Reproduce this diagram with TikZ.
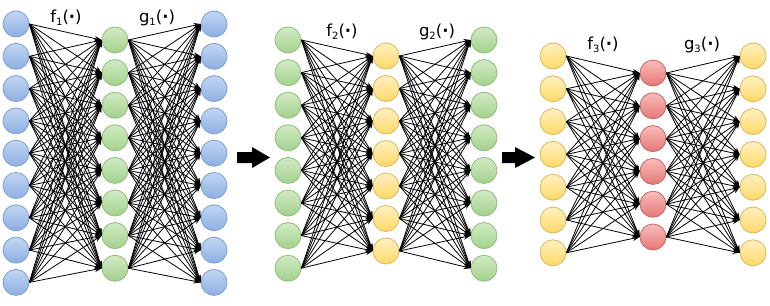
\documentclass[tikz,border=0pt]{standalone}
\usepackage{fontspec}
\setmainfont{DejaVu Sans}
\usetikzlibrary{arrows.meta}
\definecolor{bluelt}{HTML}{C2D6F3}
\definecolor{bluedk}{HTML}{8DAFE2}
\definecolor{bluest}{HTML}{7D9FCF}
\definecolor{greenlt}{HTML}{D2EBC6}
\definecolor{greendk}{HTML}{A3D18B}
\definecolor{greenst}{HTML}{8FBD78}
\definecolor{yellowlt}{HTML}{FFF0C2}
\definecolor{yellowdk}{HTML}{FFD966}
\definecolor{yellowst}{HTML}{D9B95C}
\definecolor{redlt}{HTML}{F8BDBB}
\definecolor{reddk}{HTML}{E67875}
\definecolor{redst}{HTML}{C06664}
\tikzset{
  neuron/.style={circle, minimum size=26pt, inner sep=0pt, line width=0.8pt},
  bluen/.style={neuron, draw=bluest, top color=bluelt, bottom color=bluedk},
  greenn/.style={neuron, draw=greenst, top color=greenlt, bottom color=greendk},
  yellown/.style={neuron, draw=yellowst, top color=yellowlt, bottom color=yellowdk},
  redn/.style={neuron, draw=redst, top color=redlt, bottom color=reddk},
  edge/.style={line width=0.8pt, black, -{Stealth[length=7pt,width=5pt]}},
  fnlabel/.style={font=\fontsize{16.5}{18}\selectfont, inner sep=0pt},
  bigarrow/.style={fill=black}
}
\newcommand{\fn}[2]{#1\raisebox{-0.35ex}{\fontsize{10}{11}\selectfont #2}(\textbf{·})}
\begin{document}
\begin{tikzpicture}[x=1pt,y=-1pt]
\useasboundingbox (0,0) rectangle (770,305);
\fill[white] (0,0) rectangle (770,305);
% network 1
\foreach \i in {0,...,8} \node[bluen] (a\i) at (16,{24+32.3*\i}) {};
\foreach \j in {0,...,7} \node[greenn] (b\j) at (115,{40+32.6*\j}) {};
\foreach \i in {0,...,8} \node[bluen] (c\i) at (214,{24+32.3*\i}) {};
\foreach \i in {0,...,8} \foreach \j in {0,...,7} \draw[edge] (a\i.east) -- (b\j.west);
\foreach \j in {0,...,7} \foreach \i in {0,...,8} \draw[edge] (b\j.east) -- (c\i.west);
\node[fnlabel] (f1) at (66,18) {\fn{f}{1}};
\node[fnlabel] (g1) at (157,18) {\fn{g}{1}};
% arrow 1
\fill[bigarrow] (237,152) -- (252,152) -- (252,147) -- (270,157.5) -- (252,168) -- (252,163) -- (237,163) -- cycle;
% network 2
\foreach \j in {0,...,7} \node[greenn] (d\j) at (288,{40+32.6*\j}) {};
\foreach \k in {0,...,6} \node[yellown] (e\k) at (386,{56+32.5*\k}) {};
\foreach \j in {0,...,7} \node[greenn] (g\j) at (484,{40+32.6*\j}) {};
\foreach \j in {0,...,7} \foreach \k in {0,...,6} \draw[edge] (d\j.east) -- (e\k.west);
\foreach \k in {0,...,6} \foreach \j in {0,...,7} \draw[edge] (e\k.east) -- (g\j.west);
\node[fnlabel] (f2) at (342,32) {\fn{f}{2}};
\node[fnlabel] (g2) at (437,32) {\fn{g}{2}};
% arrow 2
\fill[bigarrow] (502,152) -- (515,152) -- (515,147) -- (535,157.5) -- (515,168) -- (515,163) -- (502,163) -- cycle;
% network 3
\foreach \k in {0,...,6} \node[yellown] (h\k) at (553,{56+32.8*\k}) {};
\foreach \m in {0,...,5} \node[redn] (r\m) at (653,{73+32.8*\m}) {};
\foreach \k in {0,...,6} \node[yellown] (o\k) at (753,{56+32.8*\k}) {};
\foreach \k in {0,...,6} \foreach \m in {0,...,5} \draw[edge] (h\k.east) -- (r\m.west);
\foreach \m in {0,...,5} \foreach \k in {0,...,6} \draw[edge] (r\m.east) -- (o\k.west);
\node[fnlabel] (f3) at (603,45) {\fn{f}{3}};
\node[fnlabel] (g3) at (702,45) {\fn{g}{3}};
\end{tikzpicture}
\end{document}
